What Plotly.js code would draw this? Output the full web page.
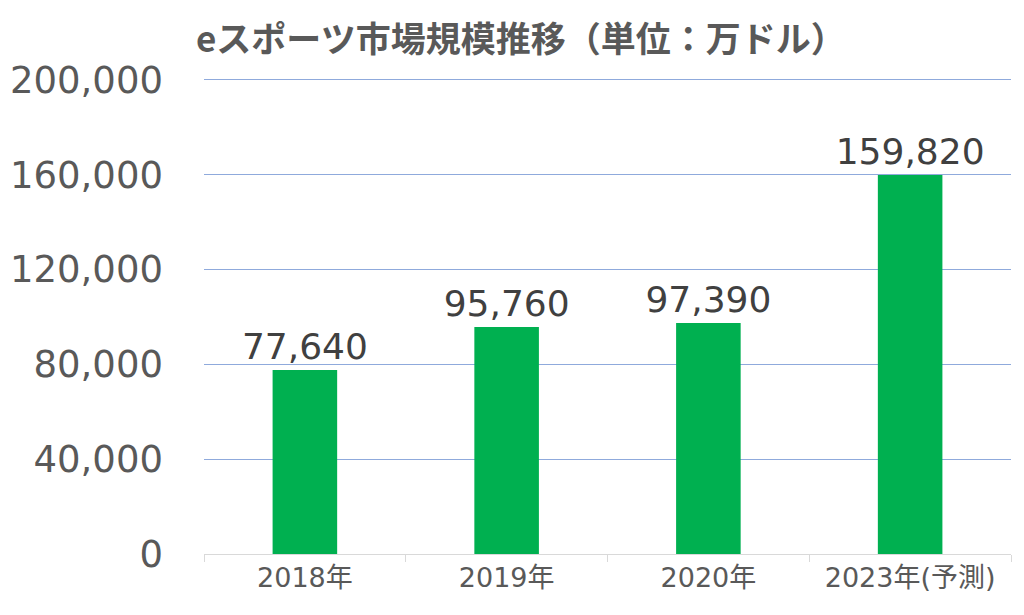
<!DOCTYPE html>
<html><head><meta charset="utf-8">
<script src="https://cdn.plot.ly/plotly-3.0.1.min.js"></script>
<style>html,body{margin:0;padding:0;background:#fff}#chart{width:1024px;height:615px}</style>
</head><body><div id="chart"></div>
<script>
const categories = ["2018年", "2019年", "2020年", "2023年(予測)"];
const values = [77640, 95760, 97390, 159820];
const yTicks = [0, 40000, 80000, 120000, 160000, 200000];
const yTickLabels = ["0", "40,000", "80,000", "120,000", "160,000", "200,000"];
const titleText = "eスポーツ市場規模推移（単位：万ドル）";
const labels = values.map(v => v.toLocaleString("en-US"));
const FONT = '"Noto Sans CJK JP", "Noto Sans", sans-serif';
const NUMFONT = '"DejaVu Sans", "Noto Sans CJK JP", sans-serif';
Plotly.newPlot("chart", [{
  type: "bar", x: categories, y: values,
  marker: {color: "#00B050"}, width: 0.32,
  text: labels, textposition: "outside", cliponaxis: false, constraintext: "none",
  textfont: {family: NUMFONT, size: 36, color: "#404040"},
  hoverinfo: "skip"
}], {
  width: 1024, height: 615,
  margin: {l: 204, r: 13, t: 75, b: 61},
  paper_bgcolor: "#fff", plot_bgcolor: "#fff",
  title: {text: "<b>" + titleText + "</b>", xref: "container", x: 196/1024, xanchor: "left",
    y: 1-40/615, yanchor: "middle", font: {family: FONT, size: 35, color: "#595959"}},
  xaxis: {type: "category", tickson: "boundaries", ticks: "outside", ticklen: 7, tickcolor: "#d9d9d9",
    showline: true, linecolor: "#d9d9d9", linewidth: 1, showgrid: false,
    tickfont: {family: NUMFONT, size: 27, color: "#595959"}},
  yaxis: {range: [0, 202000], tickvals: yTicks, ticktext: yTickLabels, showgrid: true, gridcolor: "#8FAADC",
    gridwidth: 1, zeroline: false, showline: false, ticks: "", ticklabelstandoff: 40,
    tickfont: {family: NUMFONT, size: 37, color: "#595959"}},
  bargap: 0.68, showlegend: false
}, {staticPlot: true});
</script></body></html>
